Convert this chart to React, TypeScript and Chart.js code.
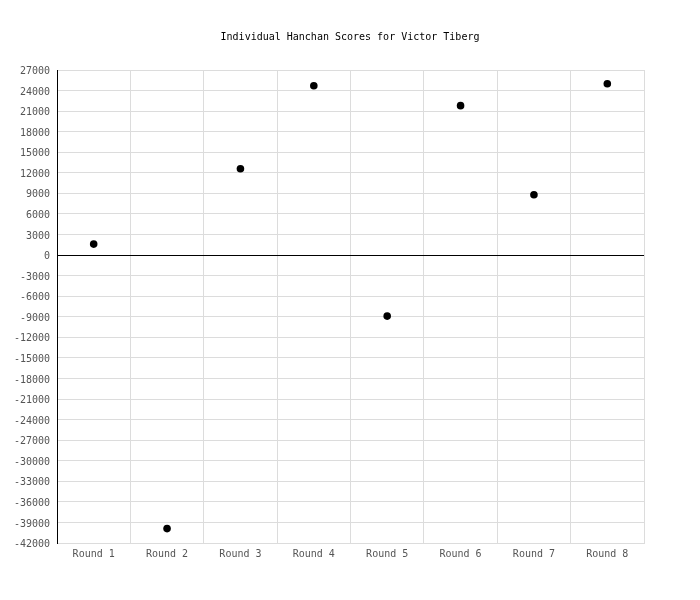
import { useEffect, useRef } from "react"
import { Chart, registerables } from "chart.js"

Chart.register(...registerables)

const rounds = ["Round 1", "Round 2", "Round 3", "Round 4", "Round 5", "Round 6", "Round 7", "Round 8"]
const scores = [1600, -39900, 12600, 24700, -8900, 21800, 8800, 25000]
const yMin = -42000
const yMax = 27000
const yStep = 3000

const FONT = "'DejaVu Sans Mono', monospace"

export default function App() {
  const chartRef = useRef<HTMLCanvasElement>(null)
  const chartInstance = useRef<Chart | null>(null)

  useEffect(() => {
    if (!chartRef.current) return
    if (chartInstance.current) chartInstance.current.destroy()
    const ctx = chartRef.current.getContext("2d")
    if (!ctx) return

    chartInstance.current = new Chart(ctx, {
      type: "line",
      data: {
        labels: rounds,
        datasets: [
          {
            data: scores,
            showLine: false,
            borderColor: "#000",
            backgroundColor: "#000",
            pointRadius: 3.8,
            pointBorderWidth: 0,
          },
        ],
      },
      options: {
        animation: false,
        responsive: true,
        maintainAspectRatio: false,
        layout: { padding: { top: 0, right: 6, bottom: 27, left: 6 } },
        plugins: {
          legend: { display: false },
          tooltip: { enabled: false },
          title: {
            display: true,
            text: "Individual Hanchan Scores for Victor Tiberg",
            color: "#000",
            font: { family: FONT, size: 10, weight: "normal" },
            padding: { top: 23, bottom: 27 },
          },
        },
        scales: {
          x: {
            offset: true,
            grid: { color: "#dcdcdc", offset: true, drawTicks: false },
            border: { color: "#dcdcdc" },
            ticks: {
              color: "#555",
              padding: 5,
              font: { family: FONT, size: 10 },
            },
          },
          y: {
            min: yMin,
            max: yMax,
            grid: {
              color: (c: any) => (c.tick && c.tick.value === 0 ? "#000" : "#dcdcdc"),
              drawTicks: false,
            },
            border: { color: "#000", width: 1 },
            ticks: {
              stepSize: yStep,
              color: "#555",
              padding: 7,
              labelOffset: 1.5,
              autoSkip: false,
              font: { family: FONT, size: 10 },
              callback: (v: any) => String(v),
            },
            afterFit: (s: any) => {
              s.width = 43
            },
          },
          // empty right-hand axis that only reserves space
          y2: {
            position: "right",
            display: true,
            grid: { display: false },
            border: { display: false },
            ticks: { display: false },
            afterFit: (s: any) => {
              s.width = 42
            },
          },
        },
      },
    })

    return () => {
      if (chartInstance.current) chartInstance.current.destroy()
    }
  }, [])

  return (
    <div style={{ width: 684, height: 584 }}>
      <canvas ref={chartRef} />
    </div>
  )
}
